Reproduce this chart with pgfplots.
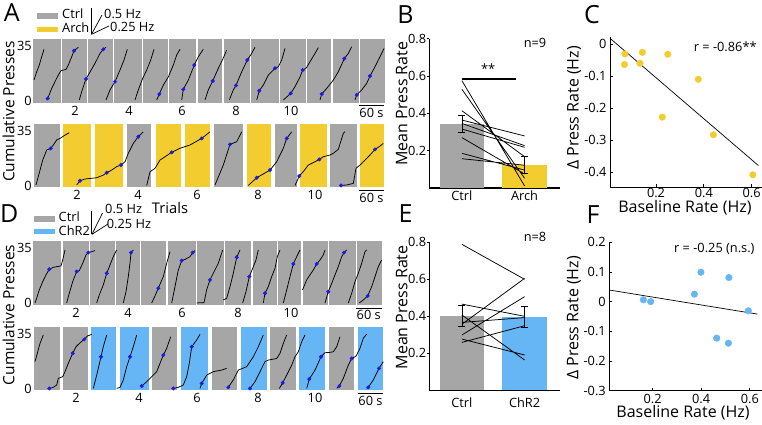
\documentclass[border=0pt]{standalone}
\usepackage{fontspec}
\setmainfont{Open Sans}
\usepackage{pgfplots}
\pgfplotsset{compat=1.18}
\definecolor{cgray}{RGB}{166,166,166}
\definecolor{cyel}{RGB}{243,205,48}
\definecolor{cblue}{RGB}{102,182,245}
\definecolor{dotb}{RGB}{25,25,235}
\newcommand{\tk}{\fontsize{12.8}{15}\selectfont}
\newcommand{\lb}{\fontsize{16}{18}\selectfont}
\newcommand{\tb}[3]{\addplot[fill=#1, draw=none, forget plot] coordinates {(#2,-1) (#3,-1) (#3,39.5) (#2,39.5)} -- cycle;}
\newcommand{\sbar}[2]{\draw[line width=0.9pt] (axis cs:#1,-3.2) -- (axis cs:#2,-3.2) node[midway, below, font=\tk, inner sep=2pt] {60 s};}
\pgfplotsset{
 every axis/.append style={/pgf/number format/assume math mode=true, tick label style={font=\tk}},
 rowax/.style={scale only axis, width=351.5pt, height=63.5pt, xmin=33, xmax=384.5, ymin=-1, ymax=39.5,
   axis line style={draw=none}, tick style={draw=none}, major tick length=0pt, ytick={0,35},
   yticklabel style={inner xsep=1pt}, clip=false, unbounded coords=jump, anchor=south west},
 trace/.style={black, line width=0.75pt, mark=none},
 dots/.style={only marks, mark=*, mark size=1.8pt, mark options={fill=dotb, draw=dotb}},
 barax/.style={scale only axis, anchor=south west, width=130.7pt, xmin=-0.52, xmax=1.565, ymin=0, ymax=0.8,
   axis x line*=bottom, axis y line*=left, axis line style={-, line width=1.1pt},
   ytick={0.2,0.4,0.6,0.8}, xtick={0,1}, tick align=outside, major tick length=2.5pt,
   y tick style={black, line width=1pt}, x tick style={draw=none}, yticklabel style={inner xsep=0.5pt},
   clip=false, unbounded coords=jump,
   every axis y label/.style={rotate=90, anchor=center, font=\lb}},
 scax/.style={scale only axis, anchor=south west, axis x line*=bottom, axis y line*=left,
   axis line style={-, line width=1pt}, tick align=inside, major tick length=3pt,
   tick style={black, line width=0.8pt}, xtick={0.2,0.4,0.6}, clip=false,
   every axis y label/.style={rotate=90, anchor=center, font=\lb},
   every axis x label/.style={anchor=center, font=\lb}},
}
\begin{document}
\begin{tikzpicture}
\useasboundingbox (0,0) rectangle (762pt,424pt);

% ---------------- Panel A, row 1 ----------------
\begin{axis}[rowax, at={(33pt,321.5pt)}, xtick={75,129,182,236,291}, xticklabels={2,4,6,8,10}]
\tb{cgray}{33}{60.5}\tb{cgray}{61.5}{87}\tb{cgray}{88}{113}\tb{cgray}{114}{141.5}\tb{cgray}{143}{167.5}
\tb{cgray}{169}{196}\tb{cgray}{197.5}{222}\tb{cgray}{223.5}{249.5}\tb{cgray}{250.5}{278.5}\tb{cgray}{280}{305.5}
\tb{cgray}{306.5}{331}\tb{cgray}{332.5}{358.5}\tb{cgray}{360}{384.5}
\addplot[trace] coordinates {
(34.0,13.3) (36.7,18.6) (39.3,22.9) (41.7,28.2) (44.0,32.9) (0,nan)
(46.7,0.6) (47.7,1.6) (51.7,8.0) (55.0,12.3) (58.3,16.5) (61.0,19.3) (66.0,20.1) (68.3,22.9) (71.7,28.2) (74.0,32.0) (78.3,34.2) (0,nan)
(79.3,0.6) (81.7,5.9) (85.0,12.3) (86.0,14.0) (89.3,17.6) (95.0,24.0) (100.0,30.3) (103.3,32.9) (106.0,34.2) (0,nan)
(106.0,0.6) (110.0,7.0) (115.0,12.3) (120.0,19.7) (124.0,26.1) (127.3,32.9) (0,nan)
(135.0,0.6) (138.3,7.0) (142.7,14.4) (146.7,19.7) (150.7,26.1) (154.0,32.9) (0,nan)
(156.7,0.6) (159.3,4.4) (163.3,10.1) (168.3,15.3) (173.3,22.9) (176.7,29.3) (180.0,32.9) (0,nan)
(181.7,0.6) (183.3,7.4) (188.3,13.3) (194.3,22.9) (198.3,28.2) (203.3,32.9) (0,nan)
(205.0,0.6) (208.3,7.0) (212.7,12.7) (218.3,20.8) (222.7,26.5) (226.7,32.5) (0,nan)
(229.3,0.6) (233.3,7.0) (236.0,9.9) (241.7,18.6) (247.3,26.1) (250.7,29.3) (255.0,34.2) (0,nan)
(256.7,0.6) (259.3,6.5) (263.3,10.1) (268.3,16.5) (273.3,19.7) (275.0,20.8) (278.3,21.8) (281.7,26.1) (285.0,33.5) (0,nan)
(283.3,0.6) (290.7,4.8) (295.0,9.1) (300.0,15.3) (302.7,19.7) (306.0,20.8) (310.0,25.0) (315.0,30.3) (318.3,34.0) (0,nan)
(320.0,0.6) (321.7,4.4) (326.7,8.0) (333.3,13.3) (338.3,18.6) (344.3,27.0) (348.3,30.3) (351.7,34.6) (0,nan)
(355.0,0.6) (356.7,3.8) (361.7,7.0) (366.7,11.2) (370.0,15.9) (375.0,21.8) (378.3,26.1) (381.7,30.3) (384.0,33.5)
};
\addplot[dots] coordinates {(47.7,1.6) (74.0,32.0) (86.0,14.0) (103.3,32.9) (115.0,12.3) (159.3,4.4) (183.3,7.4) (194.3,22.9) (212.7,12.7) (236.0,9.9) (247.3,26.1) (259.3,6.5) (275.0,20.8) (290.7,4.8) (302.7,19.7) (321.7,4.4) (344.3,27.0) (356.7,3.8) (370.0,15.9)};
\sbar{359}{384}
\end{axis}

% ---------------- Panel A, row 2 ----------------
\begin{axis}[rowax, at={(33pt,237pt)}, xtick={77,138,197,258,315}, xticklabels={2,4,6,8,10}]
\tb{cgray}{34}{59.5}\tb{cyel}{62.5}{91}\tb{cyel}{95}{123}\tb{cgray}{127}{151}\tb{cyel}{155.7}{181}
\tb{cyel}{185}{210}\tb{cgray}{214}{243}\tb{cyel}{246.7}{271}\tb{cgray}{274.5}{297}\tb{cyel}{300}{327}
\tb{cgray}{330}{357}\tb{cyel}{360}{383.5}
\addplot[trace] coordinates {
(36,0.3) (39.3,8.0) (42.7,16.2) (46.7,22.6) (50.7,23.6) (53.3,25.8) (56.7,29.0) (60,30.0) (65,32.1) (69.3,33.6) (0,nan)
(76.7,0.3) (80,3.0) (85,4.1) (96.7,4.9) (103.3,6.6) (106.7,8.1) (111.7,9.8) (116.7,12.0) (121,13.0) (125,15.1) (128.3,20.5) (133.3,26.8) (138.3,31.1) (141.7,33.2) (143.3,34.2) (0,nan)
(146.7,0) (150,8.7) (155,10.9) (160,16.2) (171.7,21.1) (180,23.7) (190,25.8) (201.7,30.0) (210,34.2) (0,nan)
(215,0.3) (223.3,13.0) (230,26.2) (236.7,27.9) (241.7,34.2) (0,nan)
(248.3,0) (256.7,4.9) (270,9.8) (276.7,15.1) (283.3,23.7) (286.7,30.0) (291.7,34.2) (0,nan)
(295,0) (299.3,6.0) (303.3,8.8) (308.3,13.0) (315,15.1) (319.3,16.6) (323.3,18.3) (330,19.4) (333.3,20.5) (338.3,23.0) (343.3,33.2) (345,34.3) (0,nan)
(341,0) (346.7,0.3) (353.3,1.3) (356,10.9) (360,13.0) (365,16.2) (370,19.4) (375,23.0) (380,25.1) (383.3,26.8)
};
\addplot[dots] coordinates {(50.7,23.6) (80,3.0) (106.7,8.1) (121,13.0) (138.3,31.1) (171.7,21.1) (201.7,30.0) (230,26.2) (256.7,4.9) (270,9.8) (286.7,30.0) (299.3,6.0) (319.3,16.6) (341,0) (375,23.0)};
\sbar{359}{384}
\end{axis}

% ---------------- Panel D, row 1 ----------------
\begin{axis}[rowax, at={(33pt,119.5pt)}, xtick={76,128,182,238,291}, xticklabels={2,4,6,8,10}]
\tb{cgray}{33}{61}\tb{cgray}{62.5}{88.5}\tb{cgray}{90}{114.5}\tb{cgray}{116}{139.5}\tb{cgray}{141}{166}
\tb{cgray}{167.5}{195.5}\tb{cgray}{197}{223.5}\tb{cgray}{225}{251}\tb{cgray}{252.5}{276.5}\tb{cgray}{278}{301}
\tb{cgray}{302.5}{327.5}\tb{cgray}{329}{355.5}\tb{cgray}{357}{382}
\addplot[trace] coordinates {
(35,0) (36.7,3.0) (39.3,8.3) (42.7,13.6) (46,17.9) (49.3,21.5) (53.3,22.7) (57.3,23.2) (61,23.6) (62.7,27.4) (65,33.8) (0,nan)
(66.7,0) (69.3,6.2) (72.7,13.6) (76.7,20.0) (79.3,20.6) (82.7,25.3) (86,30.6) (88.3,32.1) (91.7,32.7) (95,33.4) (0,nan)
(96.7,0) (99.3,5.1) (103.3,11.5) (106.7,18.9) (110,24.2) (113.3,29.5) (116.7,33.8) (0,nan)
(123.3,0) (126,7.2) (128.3,16.8) (130,25.3) (131,32.1) (133.3,33.8) (0,nan)
(151.7,0) (155,4.5) (158.3,9.4) (163.3,16.8) (166.7,25.3) (170,32.7) (0,nan)
(171.7,0) (175,10.4) (178.3,21.0) (181.7,27.0) (185,27.8) (190,29.5) (192.7,32.1) (195,33.4) (0,nan)
(196.7,0) (204,0.2) (206.7,8.5) (210,14.7) (213.3,18.9) (218.3,25.3) (222.7,33.8) (0,nan)
(223.3,1.9) (226.7,3.0) (230,10.4) (233.3,18.9) (236.7,29.1) (240,33.8) (0,nan)
(242.7,0) (246,7.2) (249.3,16.8) (252.7,22.1) (256,27.4) (258.3,33.8) (0,nan)
(263.3,0) (265,6.2) (268.3,10.4) (271.7,16.8) (275,22.1) (277.3,29.5) (280,33.8) (0,nan)
(283.3,0) (286.7,8.3) (290,16.8) (293.3,24.9) (296.7,29.5) (300,33.8) (0,nan)
(302.5,8.3) (306.7,14.7) (310,17.9) (313.3,21.0) (316.7,24.9) (320,27.4) (323.3,30.6) (325,33.8) (0,nan)
(325,0) (328.3,7.2) (331.7,12.5) (335,17.9) (338.3,23.2) (341.7,29.5) (344,32.1) (346.7,33.8) (0,nan)
(348.3,0) (351.7,6.2) (355,13.6) (358.3,18.9) (361.7,25.3) (365,32.7) (366.7,33.8) (0,nan)
(359.3,0) (363.3,1.9) (367.7,4.5) (371.7,10.4) (375,16.8) (378.3,23.2) (381.7,27.4)
};
\addplot[dots] coordinates {(49.3,21.5) (76.7,20.0) (88.3,32.1) (106.7,18.9) (131,32.1) (158.3,9.4) (181.7,27.0) (192.7,32.1) (210,14.7) (236.7,29.1) (249.3,16.8) (265,6.2) (293.3,24.9) (316.7,24.9) (328.3,7.2) (344,32.1) (367.7,4.5)};
\sbar{356}{381.5}
\end{axis}

% ---------------- Panel D, row 2 ----------------
\begin{axis}[rowax, at={(33pt,34pt)}, xtick={76,139,197,258,315}, xticklabels={2,4,6,8,10}]
\tb{cgray}{34}{59.5}\tb{cgray}{62.5}{87.5}\tb{cblue}{91}{116}\tb{cblue}{120}{149}\tb{cgray}{152}{177}
\tb{cblue}{181}{208}\tb{cgray}{212}{237}\tb{cblue}{241}{267}\tb{cgray}{270}{296}\tb{cblue}{299}{325}
\tb{cgray}{329}{354}\tb{cblue}{358}{383}
\addplot[trace] coordinates {
(35,17.1) (37.3,22.4) (40,28.7) (43.3,34.1) (0,nan)
(49.3,0) (53.3,0.7) (56.7,2.2) (58.3,6.4) (62.7,7.5) (65,10.7) (68.3,16.0) (72.7,22.4) (76,26.6) (80,29.1) (84.3,31.3) (87.3,33.4) (91.7,34.5) (0,nan)
(93.3,0) (96.7,8.5) (101,20.2) (103.3,26.6) (106.7,34.1) (0,nan)
(116.7,0) (120,0.7) (123.3,5.4) (126.7,13.9) (130,20.2) (133.3,26.6) (136.7,34.1) (0,nan)
(141.7,1.5) (146.7,4.3) (151.7,7.5) (156.7,10.7) (160,16.0) (163.3,21.3) (166.7,25.6) (170.7,33.0) (0,nan)
(173.3,0) (178.3,0.7) (183.3,2.2) (186.7,7.5) (189.3,16.0) (191.7,26.6) (196.7,30.9) (200,34.5) (0,nan)
(200,0) (201.7,3.2) (206.7,8.5) (213.3,10.7) (221.7,11.7) (226.7,12.8) (0,nan)
(228.3,0.7) (233.3,5.4) (238.3,11.7) (246.7,13.9) (253.3,20.2) (258.3,26.6) (263.3,34.1) (0,nan)
(250,0) (255,4.3) (260,10.7) (265,17.1) (268.3,18.1) (276.7,19.1) (280,22.4) (283.3,28.7) (286.7,34.1) (0,nan)
(279.3,0) (282.7,3.6) (286.7,8.5) (291.7,14.9) (295,20.2) (298.3,23.4) (301.7,29.8) (305,34.1) (0,nan)
(306.7,0) (309.3,6.0) (315,11.7) (321,20.2) (325,22.8) (330,23.0) (333.3,23.4) (336.7,26.6) (340,33.0) (0,nan)
(336.7,0) (339.3,1.5) (343.3,6.4) (348.3,14.9) (351.7,19.1) (356,20.6) (360,25.6) (363.3,32.0) (366.7,34.7) (0,nan)
(366.7,0) (368.3,0.7) (373.3,5.4) (379,12.8) (383.3,17.1)
};
\addplot[dots] coordinates {(49.3,0) (72.7,22.4) (84.3,31.3) (101,20.2) (130,20.2) (141.7,1.5) (163.3,21.3) (173.3,0) (191.7,26.6) (201.7,3.2) (228.3,0.7) (250,0) (282.7,3.6) (309.3,6.0) (321,20.2) (339.3,1.5) (351.7,19.1) (368.3,0.7) (379,12.8)};
\sbar{358}{383}
\end{axis}

% ---------------- Panel B ----------------
\begin{axis}[barax, at={(429.3pt,236pt)}, height=149.3pt, xticklabels={Ctrl,Arch},
  xticklabel style={yshift=3pt}, ylabel={Mean Press Rate},
  every axis y label/.append style={at={(rel axis cs:-0.211,0.565)}}]
\addplot[ybar, bar width=44.5pt, bar shift=0pt, fill=cgray, draw=none] coordinates {(0,0.343)};
\addplot[ybar, bar width=44.5pt, bar shift=0pt, fill=cyel, draw=none] coordinates {(1,0.125)};
\addplot[black, line width=0.75pt] coordinates {
(0,0.575) (1,0.011) (0,nan) (0,0.529) (1,0.052) (0,nan) (0,0.414) (1,0.168) (0,nan)
(0,0.364) (1,0.279) (0,nan) (0,0.346) (1,0.227) (0,nan) (0,0.316) (1,0.218) (0,nan)
(0,0.27) (1,0.075) (0,nan) (0,0.186) (1,0.096) (0,nan) (0,0.157) (1,0.122)};
\addplot[black, line width=0.8pt] coordinates {
(0,0.296) (0,0.39) (0,nan) (-0.055,0.39) (0.055,0.39) (0,nan) (-0.055,0.296) (0.055,0.296) (0,nan)
(1,0.08) (1,0.17) (0,nan) (0.945,0.17) (1.055,0.17) (0,nan) (0.945,0.08) (1.055,0.08)};
\addplot[black, line width=1.3pt] coordinates {(0,0.584) (0.86,0.584)};
\node[font=\tk] at (axis cs:0.42,0.637) {**};
\node[font=\tk] at (rel axis cs:0.809,0.973) {n=9};
\end{axis}

% ---------------- Panel E ----------------
\begin{axis}[barax, at={(429.3pt,33.7pt)}, height=148pt, xticklabels={Ctrl,ChR2},
  xticklabel style={yshift=-1.5pt}, ylabel={Mean Press Rate},
  every axis y label/.append style={at={(rel axis cs:-0.211,0.56)}}]
\addplot[ybar, bar width=44.5pt, bar shift=0pt, fill=cgray, draw=none] coordinates {(0,0.402)};
\addplot[ybar, bar width=44.5pt, bar shift=0pt, fill=cblue, draw=none] coordinates {(1,0.397)};
\addplot[black, line width=0.75pt] coordinates {
(0,0.789) (1,0.600) (0,nan) (0,0.466) (1,0.400) (0,nan) (0,0.407) (1,0.164) (0,nan)
(0,0.367) (1,0.393) (0,nan) (0,0.357) (1,0.605) (0,nan) (0,0.299) (1,0.506) (0,nan)
(0,0.277) (1,0.191) (0,nan) (0,0.259) (1,0.349)};
\addplot[black, line width=0.8pt] coordinates {
(0,0.344) (0,0.460) (0,nan) (-0.055,0.460) (0.055,0.460) (0,nan) (-0.055,0.344) (0.055,0.344) (0,nan)
(1,0.339) (1,0.455) (0,nan) (0.945,0.455) (1.055,0.455) (0,nan) (0.945,0.339) (1.055,0.339)};
\node[font=\tk] at (rel axis cs:0.809,1.038) {n=8};
\end{axis}

% ---------------- Panel C ----------------
\begin{axis}[scax, at={(610pt,236.7pt)}, width=151.7pt, height=150pt,
  xmin=0.0075, xmax=0.642, ymin=-0.447, ymax=0.021, ytick={-0.4,-0.3,-0.2,-0.1,0},
  xticklabel style={yshift=2.5pt},
  xlabel={Baseline Rate (Hz)}, ylabel={Δ Press Rate (Hz)},
  every axis x label/.append style={at={(rel axis cs:0.494,0)}, yshift=-20.7pt},
  every axis y label/.append style={at={(rel axis cs:-0.237,0.529)}}]
\addplot[black, line width=0.7pt] coordinates {(0.0075,0.018) (0.628,-0.379)};
\addplot[only marks, mark=*, mark size=3.3pt, mark options={fill=cyel, draw=cyel}] coordinates {
(0.070,-0.031) (0.068,-0.064) (0.143,-0.026) (0.133,-0.060) (0.249,-0.032)
(0.377,-0.110) (0.226,-0.228) (0.440,-0.283) (0.605,-0.408)};
\node[font=\tk, anchor=east] at (rel axis cs:0.99,0.937) {r = -0.86**};
\end{axis}

% ---------------- Panel F ----------------
\begin{axis}[scax, at={(609.3pt,33.3pt)}, width=152.4pt, height=148.5pt,
  xmin=0.022, xmax=0.649, ymin=-0.3, ymax=0.2, ytick={-0.3,-0.2,-0.1,0,0.1,0.2},
  xlabel={Baseline Rate (Hz)}, ylabel={Δ Press Rate (Hz)},
  every axis x label/.append style={at={(rel axis cs:0.484,0)}, yshift=-22.3pt},
  every axis y label/.append style={at={(rel axis cs:-0.232,0.49)}}]
\addplot[black, line width=0.7pt] coordinates {(0.022,0.039) (0.631,-0.042)};
\addplot[only marks, mark=*, mark size=3.3pt, mark options={fill=cblue, draw=cblue}] coordinates {
(0.162,0.006) (0.192,0.0) (0.372,0.025) (0.399,0.099) (0.514,0.081)
(0.464,-0.123) (0.512,-0.140) (0.594,-0.031)};
\node[font=\tk, anchor=east] at (rel axis cs:0.976,0.954) {r = -0.25 (n.s.)};
\end{axis}

% ---------------- Labels, legends ----------------
\node[font=\fontsize{25}{28}\selectfont] at (11.7pt,411.5pt) {A};
\node[font=\fontsize{25}{28}\selectfont] at (405.5pt,409.3pt) {B};
\node[font=\fontsize{25}{28}\selectfont] at (592pt,409pt) {C};
\node[font=\fontsize{25}{28}\selectfont] at (9.2pt,210pt) {D};
\node[font=\fontsize{25}{28}\selectfont] at (405.5pt,210pt) {E};
\node[font=\fontsize{25}{28}\selectfont] at (593pt,209pt) {F};

\node[font=\fontsize{15.5}{18}\selectfont, rotate=90] at (8.5pt,312.5pt) {Cumulative Presses};
\node[font=\fontsize{15.5}{18}\selectfont, rotate=90] at (8.5pt,109pt) {Cumulative Presses};
\node[font=\fontsize{14.7}{17}\selectfont] at (170pt,216pt) {Trials};

% legend A
\fill[cgray] (37pt,405.2pt) rectangle (58pt,410.5pt);
\fill[cyel] (37pt,391.5pt) rectangle (58pt,396.5pt);
\node[font=\tk, anchor=base west, inner sep=0pt] at (62pt,405pt) {Ctrl};
\node[font=\tk, anchor=base west, inner sep=0pt] at (62pt,391.7pt) {Arch};
\draw[line width=0.7pt] (91pt,415.7pt) -- (91pt,389.7pt);
\draw[line width=0.7pt] (91.5pt,389.7pt) -- (102pt,409pt);
\draw[line width=0.7pt] (91.5pt,389.7pt) -- (109pt,398pt);
\node[font=\tk, anchor=base west, inner sep=0pt] at (104pt,405.7pt) {0.5 Hz};
\node[font=\tk, anchor=base west, inner sep=0pt] at (110pt,392.3pt) {0.25 Hz};

% legend D
\fill[cgray] (33.5pt,202.5pt) rectangle (55pt,207.8pt);
\fill[cblue] (33.5pt,189.7pt) rectangle (55pt,194.8pt);
\node[font=\tk, anchor=base west, inner sep=0pt] at (58.5pt,202.3pt) {Ctrl};
\node[font=\tk, anchor=base west, inner sep=0pt] at (58.5pt,189pt) {ChR2};
\draw[line width=0.7pt] (91.5pt,213.5pt) -- (91.5pt,189.7pt);
\draw[line width=0.7pt] (92pt,189.7pt) -- (102.5pt,211pt);
\draw[line width=0.7pt] (92pt,189.7pt) -- (108pt,200pt);
\node[font=\tk, anchor=base west, inner sep=0pt] at (105pt,210.7pt) {0.5 Hz};
\node[font=\tk, anchor=base west, inner sep=0pt] at (106.7pt,195.7pt) {0.25 Hz};
\end{tikzpicture}
\end{document}
